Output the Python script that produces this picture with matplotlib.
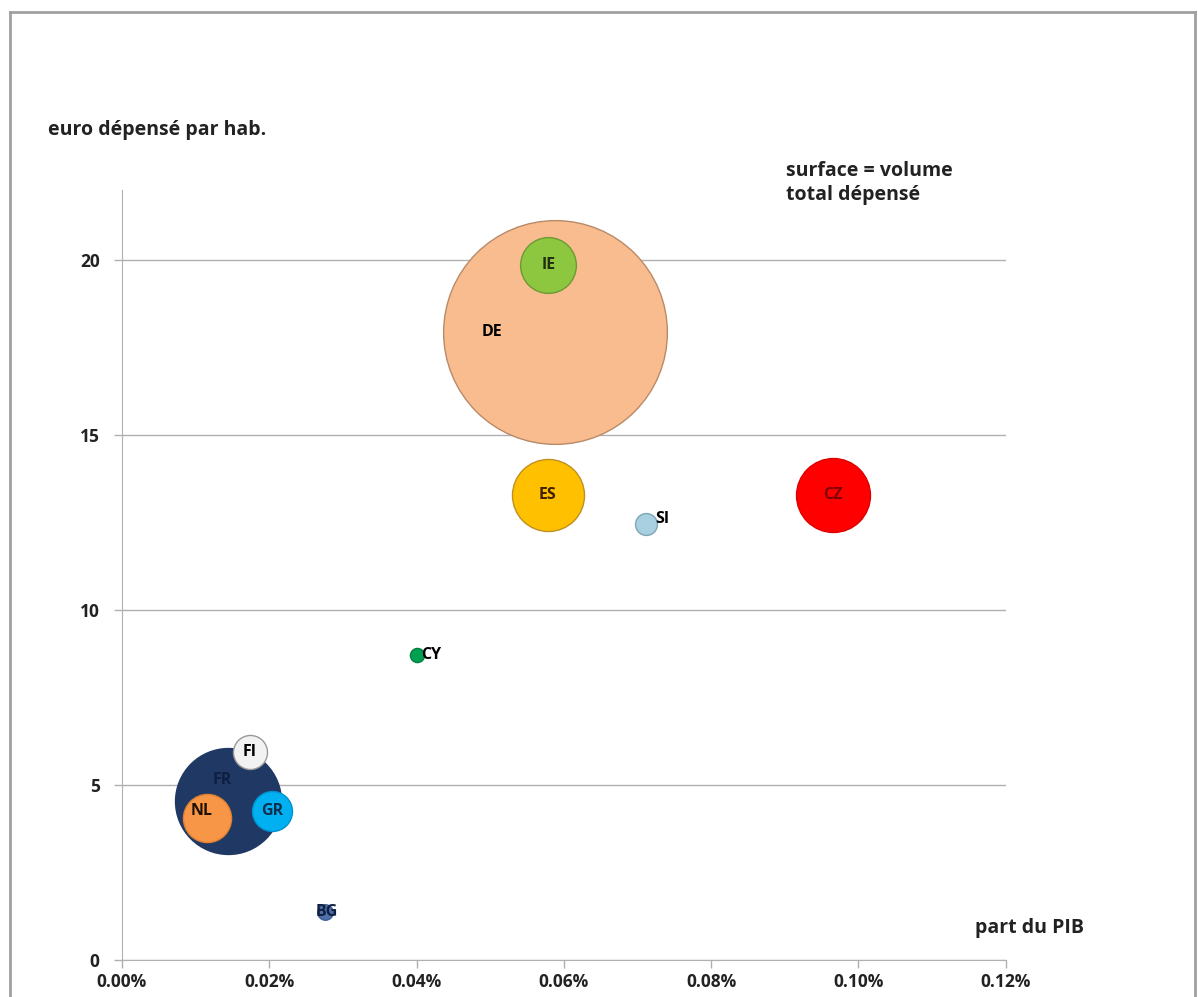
import matplotlib.pyplot as plt
from matplotlib.lines import Line2D

# country data
countries = ['DE', 'IE', 'ES', 'CZ', 'SI', 'CY', 'FR', 'NL', 'GR', 'FI', 'BG']
part_pib = [0.0588, 0.0579, 0.0578, 0.0965, 0.0711, 0.0401, 0.0144, 0.0116, 0.0204, 0.0174, 0.0276]  # in %
euro_hab = [17.95, 19.85, 13.3, 13.3, 12.45, 8.72, 4.55, 4.05, 4.27, 5.95, 1.37]
volume = [1254, 78, 130, 137, 12, 5, 281, 58, 40, 29, 6]  # relative total spent

colors = ['#F8BC8F', '#8DC63F', '#FFC000', '#FF0000', '#A9D0E0', '#00A050',
          '#1F3864', '#F79646', '#00B0F0', '#F2F2F2', '#4F6FA8']
edges = ['#B98A68', '#6E9A35', '#C09020', '#DD0000', '#7FA6B8', '#008040',
         '#1F3864', '#E08030', '#0090D0', '#999999', '#3F5F98']

plt.rcParams['font.family'] = ['Open Sans', 'DejaVu Sans']

fig = plt.figure(figsize=(11.98, 9.97), dpi=100)
ax = fig.add_axes([0.1018, 0.0371, 0.7376, 0.7723])

for i, c in enumerate(countries):
    ax.scatter(part_pib[i], euro_hab[i], s=volume[i] * 20.7, color=colors[i],
               edgecolors=edges[i], linewidths=1, zorder=3 + i * 0.01)

# labels
lbl_style = dict(fontsize=11.5, fontweight='bold', zorder=10)
offsets = {'DE': (-0.0085, 0, 'center'), 'SI': (0.0013, 0.15, 'left'),
           'CY': (0.0005, 0, 'left'), 'FR': (-0.0008, 0.6, 'center'),
           'NL': (-0.0008, 0.2, 'center'), 'BG': (0.0002, 0, 'center')}
txt_colors = {'CZ': '#7F0000', 'FR': '#0F1F40', 'GR': '#0F2F50', 'BG': '#0F1F40',
              'ES': '#3F2000', 'IE': '#203010', 'NL': '#201000'}
for i, c in enumerate(countries):
    dx, dy, ha = offsets.get(c, (0, 0, 'center'))
    ax.text(part_pib[i] + dx, euro_hab[i] + dy, c, ha=ha, va='center',
            color=txt_colors.get(c, 'black'), **lbl_style)

ax.set_xlim(0, 0.12)
ax.set_ylim(0, 22)
ax.set_xticks([0, 0.02, 0.04, 0.06, 0.08, 0.10, 0.12])
ax.set_xticklabels([f'{v:.2f}%' for v in ax.get_xticks()])
ax.set_yticks([0, 5, 10, 15, 20])
ax.yaxis.grid(True, color='#B0B0B0', linewidth=1)
ax.set_axisbelow(True)
for s in ['top', 'right']:
    ax.spines[s].set_visible(False)
for s in ['left', 'bottom']:
    ax.spines[s].set_color('#B0B0B0')
ax.tick_params(axis='both', colors='#B0B0B0', labelcolor='#222222',
               labelsize=12.5, length=6, width=1, direction='out')
for lab in ax.get_xticklabels() + ax.get_yticklabels():
    lab.set_fontweight('bold')
ax.tick_params(axis='y', pad=10)
ax.tick_params(axis='x', pad=3)

fig.text(48 / 1198, 1 - 130 / 997, 'euro dépensé par hab.', fontsize=14,
         fontweight='bold', color='#222222', va='center')
fig.text(786 / 1198, 1 - 183 / 997, 'surface = volume\ntotal dépensé', fontsize=14,
         fontweight='bold', color='#222222', va='center', linespacing=1.3)
fig.text(975 / 1198, 1 - 928 / 997, 'part du PIB', fontsize=14,
         fontweight='bold', color='#222222', va='center')

# chart frame
for xs, ys in [([10, 1195], [12, 12]), ([10, 10], [12, 997]), ([1195, 1195], [12, 997])]:
    fig.add_artist(Line2D([x / 1198 for x in xs], [1 - y / 997 for y in ys],
                          color='#A0A0A0', linewidth=2))

fig.savefig('out.png', dpi=100)
